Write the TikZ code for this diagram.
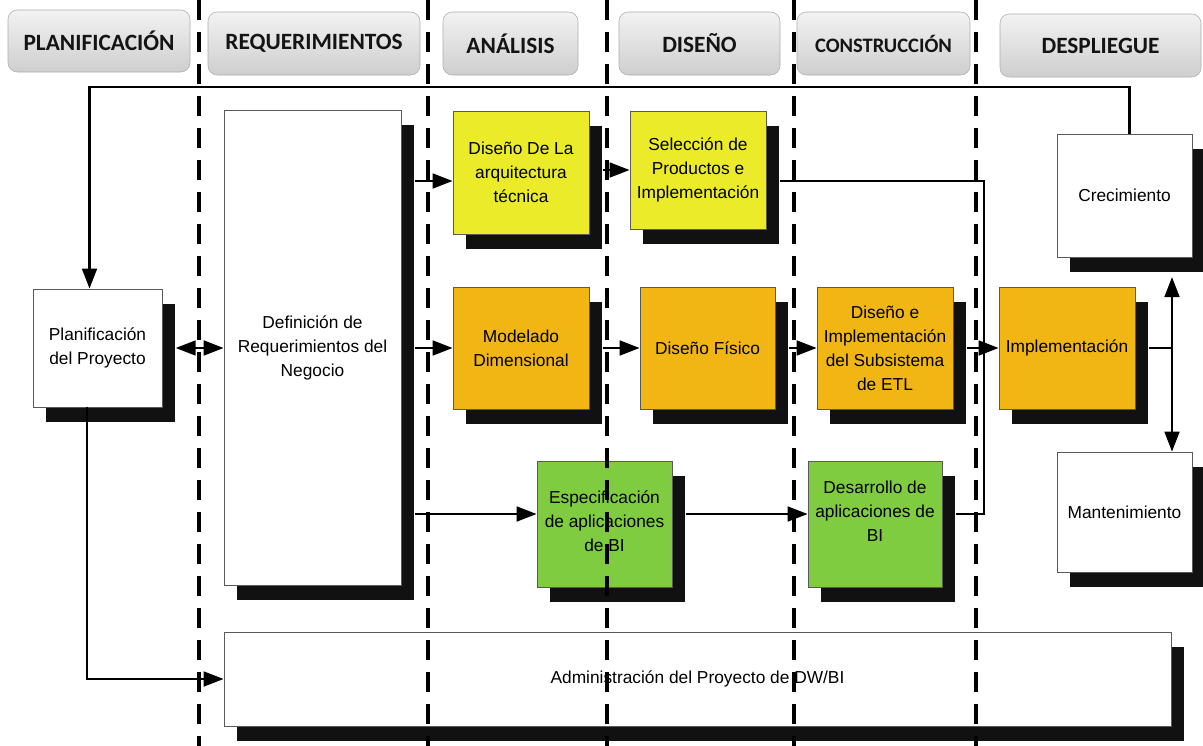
\documentclass[tikz,border=0pt]{standalone}
\usepackage{fontspec}
\setmainfont{Liberation Sans}
\newfontfamily\headfont{Carlito}
\usetikzlibrary{arrows.meta,shadows,calc}
\definecolor{amarillo}{RGB}{235,235,42}
\definecolor{naranja}{RGB}{242,182,20}
\definecolor{verde}{RGB}{128,204,64}
\definecolor{sombra}{RGB}{17,17,17}
\begin{document}
\begin{tikzpicture}[x=0.75pt,y=-0.75pt,
  fase/.style={rounded corners=7pt, draw=gray!65, top color=gray!10, bottom color=gray!38,
    font=\headfont\bfseries\fontsize{17.5}{20}\selectfont, text=black!92, inner sep=0pt},
  caja/.style={draw=black!65, line width=0.5pt, fill=white, align=center,
    font=\fontsize{13}{18}\selectfont, inner sep=2pt,
    drop shadow={shadow xshift=9.75pt, shadow yshift=-11.25pt, fill=sombra, opacity=1}},
  dim/.style 2 args={minimum width=#1*0.75pt, minimum height=#2*0.75pt},
  punta/.tip={Triangle[length=15pt,width=11pt]},
  flecha/.style={line width=2pt, -punta},
  doble/.style={line width=2pt, punta-punta},
  linea/.style={line width=2pt},
  separador/.style={line width=3pt, dash pattern=on 15pt off 9pt}
]
\useasboundingbox (0,0) rectangle (1203,746);

% phase headers
\node[fase, dim={182}{62}] (h1) at (99,41) {PLANIFICACIÓN};
\node[fase, dim={212}{63}] (h2) at (314,43.5) {REQUERIMIENTOS};
\node[fase, dim={135}{63}] (h3) at (510.5,43.5) {ANÁLISIS};
\node[fase, dim={161}{63}] (h4) at (699.5,43.5) {DISEÑO};
\node[fase, dim={173}{63}, font=\headfont\bfseries\fontsize{15.4}{18}\selectfont] (h5) at (883.5,43.5) {CONSTRUCCIÓN};
\node[fase, dim={201}{63}] (h6) at (1100.5,45.5) {DESPLIEGUE};

% activity boxes
\node[caja, dim={129}{118}] (plan) at (97.5,348) {Planificación\\del Proyecto};
\node[caja, dim={177}{475}] (def) at (312.5,347.5) {Definición de\\Requerimientos del\\Negocio};
\node[caja, dim={136}{123}, fill=amarillo] (arq) at (521,172.5) {Diseño De La\\arquitectura\\técnica};
\node[caja, dim={136}{118}, fill=amarillo] (sel) at (698,170) {Selección de\\Productos e\\Implementación};
\node[caja, dim={135}{123}] (crec) at (1124.5,195.5) {Crecimiento};
\node[caja, dim={136}{122}, fill=naranja] (mod) at (521,348) {Modelado\\Dimensional};
\node[caja, dim={135}{122}, fill=naranja] (fis) at (707.5,348) {Diseño Físico};
\node[caja, dim={136}{122}, fill=naranja] (etl) at (885,348) {Diseño e\\Implementación\\del Subsistema\\de ETL};
\node[caja, dim={136}{122}, fill=naranja] (impl) at (1067,348) {Implementación};
\node[caja, dim={135}{120}] (mant) at (1124.5,512) {Mantenimiento};
\node[caja, dim={135}{126}, fill=verde] (esp) at (604.5,524) {};
\node[caja, dim={134}{126}, fill=verde] (des) at (875,524) {};
\node[caja, dim={947}{94}] (adm) at (697.5,679) {Administración del Proyecto de DW/BI};
\node[align=center, font=\fontsize{13}{18}\selectfont] at ($(esp.center)+(0,-3)$) {Especificación\\de aplicaciones\\de BI};
\node[align=center, font=\fontsize{13}{18}\selectfont] at ($(des.center)+(0,-13)$) {Desarrollo de\\aplicaciones de\\BI};

% connectors
\draw[flecha] ([xshift=3.5pt]crec.north) |- ([xshift=-6pt]plan.north |- 0,87) -- ([xshift=-6pt]plan.north);
\draw[doble] ([xshift=10pt]plan.east) -- (plan.east -| def.west);
\draw[flecha] ([xshift=-7.9pt]plan.south) |- (adm.west);
\draw[flecha] ([xshift=10.5pt]def.east |- 0,181) -- (arq.west |- 0,181);
\draw[flecha] ([xshift=10.5pt]def.east |- mod.west) -- (mod.west);
\draw[flecha] ([xshift=10.5pt]def.east |- 0,514) -- (esp.west |- 0,514);
\draw[flecha] ([xshift=10pt]arq.east |- sel.west) -- (sel.west);
\draw[linea] ([xshift=10pt]sel.east |- 0,181) -| (984,514) -- ([xshift=10pt]des.east |- 0,514);
\draw[flecha] ([xshift=10pt]mod.east) -- (fis.west);
\draw[flecha] ([xshift=10pt]fis.east) -- (etl.west);
\draw[flecha] ([xshift=10pt]etl.east) -- (impl.west);
\draw[flecha] ([xshift=10pt]esp.east |- 0,514) -- (des.west |- 0,514);
\coordinate (eje) at (1172,348);
\draw[linea] ([xshift=10pt]impl.east) -- (eje);
\draw[doble] (eje |- 0,277) -- (eje |- mant.north);

% phase separators
\foreach \sx in {199,428,607,794,976}
  \draw[separador] (\sx,0) -- (\sx,746);
\end{tikzpicture}
\end{document}
